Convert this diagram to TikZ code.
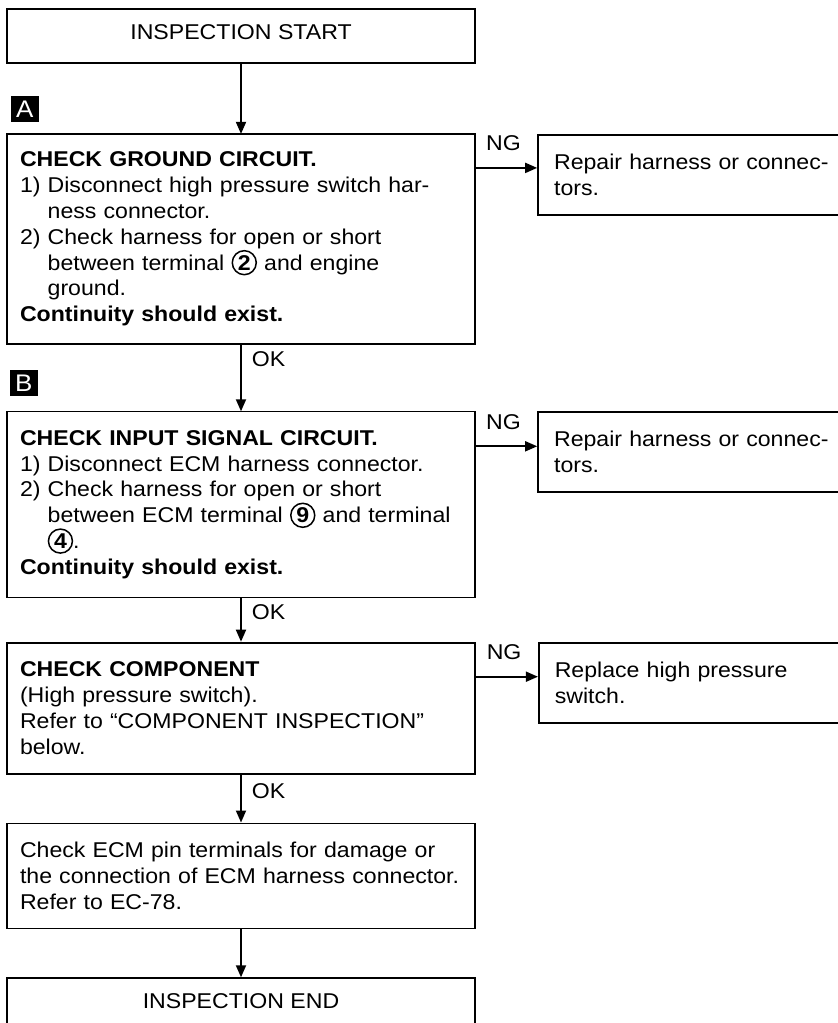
\documentclass[tikz,border=0pt]{standalone}
\usepackage{fontspec}
\setmainfont[FakeStretch=1.08]{Liberation Sans}
\usetikzlibrary{arrows.meta,positioning}

\tikzset{termcircle/.style={draw, circle, line width=1.5pt, inner sep=0pt, minimum size=24pt, text width={}, font=\bfseries, anchor=center}}
\newcommand{\cterm}[1]{\tikz[baseline=(t.base)]\node[termcircle] (t) {#1};}

\begin{document}
\begin{tikzpicture}[->, >={Triangle[length=12pt,width=10pt]}, line width=1.8pt, x=1pt, y=-1pt, font=\fontsize{21.4}{25.8}\selectfont]
    \tikzstyle{endbox}=[draw, minimum width=468pt, minimum height=54pt, align=center]
    \tikzstyle{stepbox}=[draw, minimum width=468pt, text width=442pt, inner xsep=13pt, align=left]
    \tikzstyle{fixbox}=[draw, minimum width=313pt, text width=281pt, inner xsep=16pt, minimum height=80pt, align=left]
    \tikzstyle{tag}=[fill=black, text=white, minimum width=28pt, minimum height=26pt, inner sep=0pt, font=\fontsize{24}{24}\selectfont]
    \tikzstyle{oklabel}=[anchor=west, inner sep=2pt, xshift=8pt]
    \tikzstyle{nglabel}=[pos=0, anchor=south west, inner sep=2pt, xshift=8pt, yshift=14pt]
    \useasboundingbox (0,0) rectangle (838,1023);

    \node[endbox, text depth=8pt] (start) at (241,36) {INSPECTION START};
    \node[stepbox, minimum height=210pt, below=70pt of start] (ground) {\textbf{CHECK GROUND CIRCUIT.}\\
      1)~Disconnect high pressure switch har-\\
      \phantom{1)~}ness connector.\\
      2)~Check harness for open or short\\
      \phantom{2)~}between terminal \cterm{2} and engine\\
      \phantom{2)~}ground.\\
      \textbf{Continuity should exist.}};
    \node[tag, above right=11pt and 3pt of ground.north west] (tagA) {A};
    \node[fixbox, right=62pt of ground.north east, anchor=north west] (repair1) {Repair harness or connec-\\tors.};

    \node[stepbox, minimum height=186pt, below=67pt of ground] (signal) {\textbf{CHECK INPUT SIGNAL CIRCUIT.}\\
      1)~Disconnect ECM harness connector.\\
      2)~Check harness for open or short\\
      \phantom{2)~}between ECM terminal \cterm{9} and terminal\\
      \phantom{2)~}\cterm{4}.\\
      \textbf{Continuity should exist.}};
    \node[tag, above right=14pt and 2pt of signal.north west] (tagB) {B};
    \node[fixbox, right=62pt of signal.north east, anchor=north west] (repair2) {Repair harness or connec-\\tors.};

    \node[stepbox, minimum height=131pt, below=44pt of signal] (component) {\textbf{CHECK COMPONENT}\\
      (High pressure switch).\\
      Refer to ``COMPONENT INSPECTION''\\
      below.};
    \node[fixbox, right=62pt of component.north east, anchor=north west] (replace) {Replace high pressure\\switch.};

    \node[stepbox, minimum height=105pt, below=48pt of component] (ecm) {Check ECM pin terminals for damage or\\
      the connection of ECM harness connector.\\
      Refer to EC-78.};
    \node[endbox, minimum height=70pt, text depth=24pt, below=48pt of ecm] (end) {INSPECTION END};

    % main flow
    \draw (start) -- (ground);
    \draw (ground) -- node[oklabel, pos=0.22] {OK} (signal);
    \draw (signal) -- node[oklabel, pos=0.32] {OK} (component);
    \draw (component) -- node[oklabel, pos=0.35] {OK} (ecm);
    \draw (ecm) -- (end);

    % NG branches
    \draw ([yshift=-34pt]ground.north east) -- node[nglabel] {NG} ([yshift=-34pt]repair1.north west);
    \draw ([yshift=-35pt]signal.north east) -- node[nglabel] {NG} ([yshift=-35pt]repair2.north west);
    \draw ([yshift=-35pt]component.north east) -- node[nglabel] {NG} ([yshift=-35pt]replace.north west);
\end{tikzpicture}
\end{document}
